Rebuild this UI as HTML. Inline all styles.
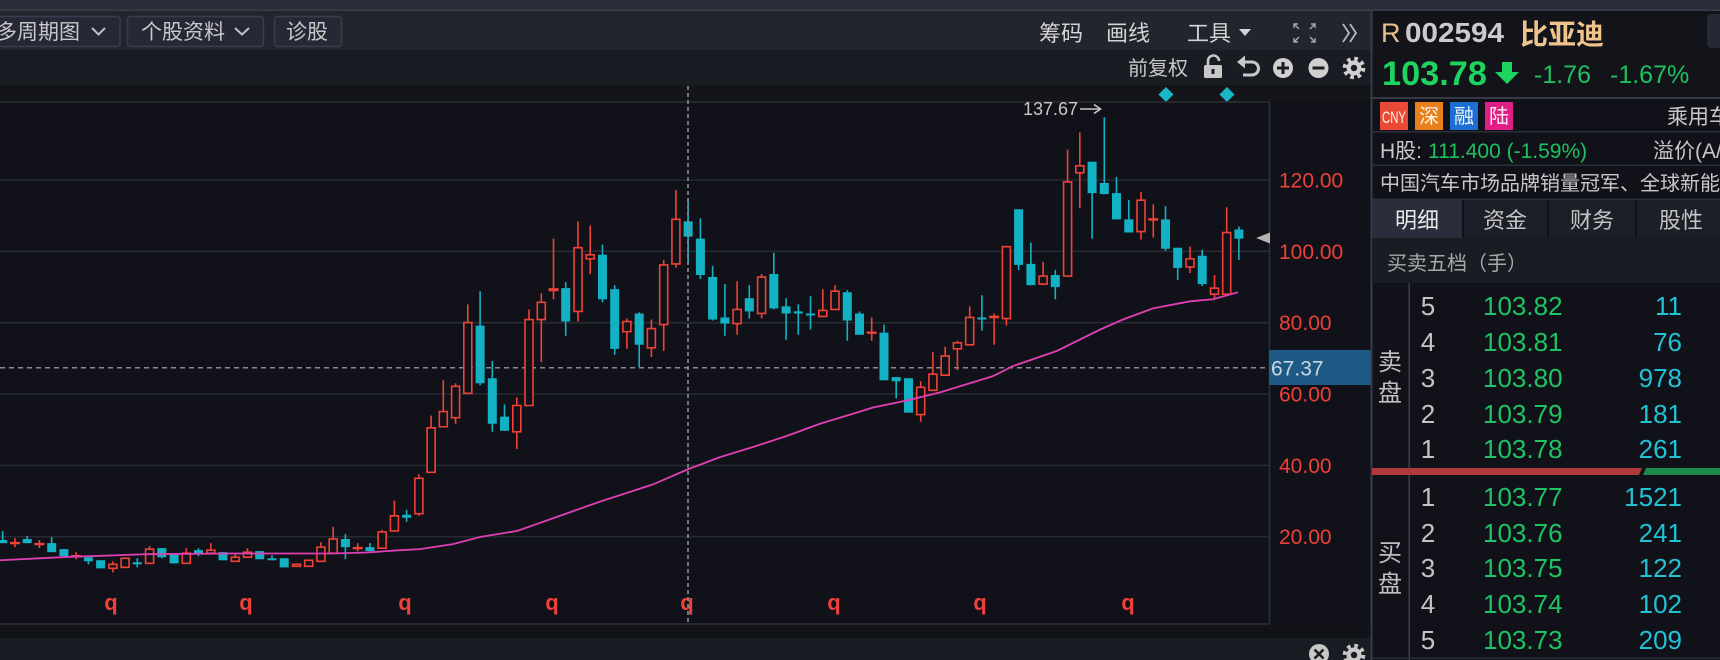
<!DOCTYPE html>
<html><head><meta charset="utf-8"><style>
html,body{margin:0;padding:0;background:#111219;}
body{width:1720px;height:660px;overflow:hidden;}
svg{display:block;}
svg text{font-family:"Liberation Sans","Noto Sans CJK SC",sans-serif;}
</style></head><body>
<svg width="1720" height="660" viewBox="0 0 1720 660" xmlns="http://www.w3.org/2000/svg">
<rect x="0" y="0" width="1720" height="660" fill="#111219"/>
<!-- top band -->
<rect x="0" y="0" width="1720" height="10" fill="#2a2c38"/>
<rect x="0" y="9.5" width="1720" height="1.5" fill="#3a3d4a"/>
<!-- left toolbar -->
<rect x="0" y="11" width="1371" height="39" fill="#22242e"/>
<rect x="0" y="50" width="1371" height="35" fill="#1a1c23"/>
<rect x="0" y="85" width="1371" height="17" fill="#141519"/>
<rect x="-5" y="16.5" width="125" height="30" rx="3" fill="#262835" stroke="#3a3d4b" stroke-width="1.5"/>
<text x="-4" y="39" font-size="21" fill="#c8c8c8">多周期图</text>
<polyline points="92,28 98.5,34.5 105,28" fill="none" stroke="#c0c0c0" stroke-width="2"/>
<rect x="127.5" y="16.5" width="136" height="30" rx="3" fill="#262835" stroke="#3a3d4b" stroke-width="1.5"/>
<text x="141" y="39" font-size="21" fill="#c8c8c8">个股资料</text>
<polyline points="235,28 242,34.5 249,28" fill="none" stroke="#c0c0c0" stroke-width="2"/>
<rect x="274.5" y="16.5" width="67" height="30" rx="3" fill="#262835" stroke="#3a3d4b" stroke-width="1.5"/>
<text x="286" y="39" font-size="21" fill="#c8c8c8">诊股</text>
<text x="1039" y="41" font-size="22" fill="#d4d4d4">筹码</text>
<text x="1106" y="41" font-size="22" fill="#d4d4d4">画线</text>
<text x="1187" y="41" font-size="22" fill="#d4d4d4">工具</text>
<polygon points="1239,29 1251,29 1245,36" fill="#d4d4d4"/>
<g stroke="#a8a8a8" stroke-width="1.4" fill="none">
<path d="M1294 28V24H1298M1294 24L1299 29"/>
<path d="M1315 28V24H1311M1315 24L1310 29"/>
<path d="M1294 38V42H1298M1294 42L1299 37"/>
<path d="M1315 38V42H1311M1315 42L1310 37"/>
</g>
<g stroke="#b8b8b8" stroke-width="1.8" fill="none">
<polyline points="1343,24 1349,33 1343,42"/>
<polyline points="1350,24 1356,33 1350,42"/>
</g>
<!-- second row -->
<text x="1128" y="75" font-size="20" fill="#c8c8c8">前复权</text>
<path d="M1208 65V61a5.5 5.5 0 0 1 11 0" fill="none" stroke="#c8c8c8" stroke-width="2.6"/>
<rect x="1204" y="65" width="18" height="13" rx="1.5" fill="#c8c8c8"/>
<rect x="1211.5" y="69" width="3" height="5" fill="#1a1c23"/>
<path d="M1244 62h8a6.5 6.5 0 0 1 0 13h-9" fill="none" stroke="#c8c8c8" stroke-width="3"/>
<polygon points="1237,62 1245,55.5 1245,68.5" fill="#c8c8c8"/>
<circle cx="1283" cy="68" r="10" fill="#d0d0d0"/>
<rect x="1277" y="66.5" width="12" height="3" fill="#1a1c23"/>
<rect x="1281.5" y="62" width="3" height="12" fill="#1a1c23"/>
<circle cx="1318.5" cy="68" r="10" fill="#d0d0d0"/>
<rect x="1312.5" y="66.5" width="12" height="3" fill="#1a1c23"/>
<circle cx="1354" cy="68" r="9.3" fill="none" stroke="#d0d0d0" stroke-width="4" stroke-dasharray="3.6 3.7"/>
<circle cx="1354" cy="68" r="7.5" fill="#d0d0d0"/>
<circle cx="1354" cy="68" r="3.2" fill="#1a1c23"/>
<polygon points="1166,87 1173.5,94.5 1166,102 1158.5,94.5" fill="#19b6c8"/>
<polygon points="1227,87 1234.5,94.5 1227,102 1219.5,94.5" fill="#19b6c8"/>

<!-- plot frame + grid -->
<g stroke="#272933" stroke-width="1.6">
<line x1="0" y1="180" x2="1269" y2="180"/>
<line x1="0" y1="251.3" x2="1269" y2="251.3"/>
<line x1="0" y1="322.7" x2="1269" y2="322.7"/>
<line x1="0" y1="394" x2="1269" y2="394"/>
<line x1="0" y1="465.4" x2="1269" y2="465.4"/>
<line x1="0" y1="536.7" x2="1269" y2="536.7"/>
</g>
<path d="M0 102H1269.5V624H0" fill="none" stroke="#2c2e38" stroke-width="1.6"/>
<rect x="0" y="625" width="1371" height="13" fill="#121319"/>
<rect x="0" y="638" width="1371" height="22" fill="#1a1c23"/>
<!-- axis labels -->
<g font-size="21" fill="#ec4038">
<text x="1279" y="187.5">120.00</text>
<text x="1279" y="258.8">100.00</text>
<text x="1279" y="330.2">80.00</text>
<text x="1279" y="401.5">60.00</text>
<text x="1279" y="472.9">40.00</text>
<text x="1279" y="544.2">20.00</text>
</g>
<line x1="0" y1="367.7" x2="1269" y2="367.7" stroke="#8a8c94" stroke-width="1.5" stroke-dasharray="5 4"/>
<rect x="1269" y="350" width="102" height="35" fill="#1e5a86"/>
<text x="1271" y="375.5" font-size="21" fill="#ccd6e0">67.37</text>

<!-- q markers -->
<g font-size="22" font-weight="bold" fill="#f0403a" text-anchor="middle">
<text x="111" y="610">q</text><text x="246" y="610">q</text><text x="405" y="610">q</text><text x="552" y="610">q</text>
<text x="687" y="610">q</text><text x="834" y="610">q</text><text x="980" y="610">q</text><text x="1128" y="610">q</text>
</g>

<!-- candles -->
<g transform="matrix(1 0 0 1.0116 0 -1.16)">
<path fill="none" stroke="#12b2c4" stroke-width="1.6" d="M2.7 526V538M27.2 531V538M51.7 532V547M63.9 544V551M88.4 551V559M100.6 555V563M137.3 553V562M161.8 543V553M174.1 548V558M198.5 543V551M223 547V555M259.7 546V554M272 550V555M284.2 553V562M345.4 529V554M369.9 538V546M406.6 505V517M480.1 289V382M492.3 358V428M504.5 401V427M565.7 280V333M602.5 243V300M614.7 283V352M639.2 310V364M688.1 198V262M700.4 217V277M712.6 264V318M724.9 282V333M749.3 283V316M773.8 251V307M786.1 296V337M798.3 302V332M810.5 294V327M847.3 288V338M859.5 309V332M884 322V377M896.2 374V395M908.5 375V409M981.9 293V328M1018.6 208V268M1030.9 241V283M1055.3 268V297M1092.1 161V237M1104.3 117V193M1116.5 176V218M1128.8 199V231M1165.5 205V249M1177.7 246V278M1202.2 248V284M1238.9 225V258"/>
<path fill="#12b2c4" d="M-1.8 535h9v3h-9zM22.7 534h9v4h-9zM47.2 538h9v9h-9zM59.4 544h9v7h-9zM83.9 552h9v4h-9zM96.1 555h9v8h-9zM132.8 557h9v2h-9zM157.3 543h9v9h-9zM169.6 548h9v10h-9zM194 545h9v3h-9zM218.5 547h9v8h-9zM255.2 546h9v8h-9zM267.5 553h9v2h-9zM279.7 553h9v9h-9zM340.9 534h9v8h-9zM365.4 542h9v4h-9zM402.1 510h9v3h-9zM475.6 323h9v57h-9zM487.8 375h9v45h-9zM500 413h9v14h-9zM561.2 286h9v33h-9zM598 253h9v44h-9zM610.2 287h9v59h-9zM634.7 311h9v31h-9zM683.6 220h9v15h-9zM695.9 237h9v36h-9zM708.1 275h9v42h-9zM720.4 315h9v6h-9zM744.8 296h9v13h-9zM769.3 272h9v34h-9zM781.6 304h9v7h-9zM793.8 309h9v2h-9zM806 311h9v2h-9zM842.8 290h9v28h-9zM855 311h9v21h-9zM879.5 330h9v47h-9zM891.7 374h9v4h-9zM904 375h9v34h-9zM977.4 315h9v2h-9zM1014.1 208h9v55h-9zM1026.4 262h9v21h-9zM1050.8 273h9v12h-9zM1087.6 161h9v31h-9zM1099.8 182h9v11h-9zM1112 192h9v26h-9zM1124.3 218h9v13h-9zM1161 218h9v29h-9zM1173.2 246h9v20h-9zM1197.7 254h9v28h-9zM1234.4 228h9v9h-9z"/>
<path fill="none" stroke="#ef4136" stroke-width="1.6" d="M14.9 533V542M39.4 535V543M76.1 547V554M112.9 556V567M125.1 552V563M149.6 541V558M186.3 543V558M210.8 538V548M235.3 549V556M247.5 543V552M296.5 558V561M308.7 555V561M320.9 537V556M333.2 522V548M357.7 538V546M382.1 525V543M394.4 496V526M418.9 470V511M431.1 412V468M443.3 377V423M455.6 380V420M467.8 302V390M516.8 394V445M529 307V402M541.3 291V359M553.5 237V297M578 220V319M590.2 224V272M626.9 316V346M651.4 317V354M663.7 258V348M675.9 189V266M737.1 279V332M761.6 272V316M822.8 287V314M835 283V307M871.7 315V338M920.7 378V418M932.9 349V387M945.2 344V372M957.4 338V367M969.7 304V342M994.1 311V342M1006.4 245V323M1043.1 260V283M1067.6 149V274M1079.8 132V207M1141 191V238M1153.3 203V236M1190 245V271M1214.5 273V297M1226.7 206V292"/>
<path fill="#ef4136" d="M9.9 536.8h10v2.4h-10zM34.4 537.8h10v2.4h-10zM71.1 549.8h10v2.4h-10zM352.7 541.8h10v2.4h-10zM548.5 286h10v3h-10zM866.7 328.8h10v2.4h-10zM989.1 313.3h10v2.4h-10zM1148.3 216.8h10v2.4h-10z"/>
<path fill="#111219" stroke="#ef4136" stroke-width="1.6" d="M108.9 559h8v4h-8zM121.1 553h8v9h-8zM145.6 544h8v14h-8zM182.3 548h8v10h-8zM206.8 545h8v3h-8zM231.3 552h8v4h-8zM243.5 547h8v5h-8zM292.5 559h8v2h-8zM304.7 555h8v6h-8zM316.9 542h8v14h-8zM329.2 534h8v14h-8zM378.1 527h8v16h-8zM390.4 511h8v15h-8zM414.9 474h8v35h-8zM427.1 424h8v44h-8zM439.3 408h8v15h-8zM451.6 383h8v31h-8zM463.8 320h8v70h-8zM512.8 402h8v26h-8zM525 317h8v85h-8zM537.3 300h8v17h-8zM574 246h8v63h-8zM586.2 253h8v4h-8zM622.9 319h8v10h-8zM647.4 326h8v19h-8zM659.7 263h8v59h-8zM671.9 218h8v44h-8zM733.1 307h8v14h-8zM757.6 275h8v36h-8zM818.8 308h8v6h-8zM831 289h8v18h-8zM916.7 384h8v27h-8zM928.9 371h8v16h-8zM941.2 353h8v19h-8zM953.4 340h8v6h-8zM965.7 315h8v27h-8zM1002.4 245h8v71h-8zM1039.1 274h8v8h-8zM1063.6 181h8v93h-8zM1075.8 165h8v7h-8zM1137 199h8v31h-8zM1186 257h8v8h-8zM1210.5 286h8v6h-8zM1222.7 231h8v61h-8z"/>
<polyline fill="none" stroke="#df3fb4" stroke-width="1.8" points="0,555 67,551.7 147,549 233,548.3 333,548.3 367,547.3 400,545 420,544 453,539 480,532 517,526 563,510 600,497 653,480 688,465 720,453 753,443 787,432 820,420 860,408 873,404 907,397 940,389 993,373 1013,363 1057,348 1100,327 1123,317 1153,306 1190,299 1213,297 1238,290"/>
</g>
<line x1="688" y1="86" x2="688" y2="624" stroke="#8a8c94" stroke-width="1.6" stroke-dasharray="4 3"/>
<text x="1023" y="115" font-size="18" fill="#c8c8c8">137.67</text>
<line x1="1080" y1="109" x2="1100" y2="109" stroke="#c8c8c8" stroke-width="1.6"/>
<polyline points="1094,104.5 1100.5,109 1094,113.5" fill="none" stroke="#c8c8c8" stroke-width="1.6"/>
<polygon points="1256,238 1270,232.5 1270,243.5" fill="#b4b4b4"/>
<!-- bottom icons -->
<circle cx="1319" cy="654" r="10" fill="#c8c8c8"/>
<path d="M1314.5 649.5L1323.5 658.5M1323.5 649.5L1314.5 658.5" stroke="#1a1c23" stroke-width="2.6"/>
<circle cx="1354" cy="655" r="9.3" fill="none" stroke="#c8c8c8" stroke-width="4" stroke-dasharray="3.6 3.7"/>
<circle cx="1354" cy="655" r="7.5" fill="#c8c8c8"/>
<circle cx="1354" cy="655" r="3.2" fill="#1a1c23"/>

<!-- right panel -->
<rect x="1372" y="11" width="348" height="649" fill="#111219"/>
<rect x="1372" y="11" width="348" height="86" fill="#13141a"/>
<rect x="1370.5" y="10" width="2" height="650" fill="#383b48"/>
<text x="1381" y="42" font-size="27" fill="#e8c08a">R</text>
<text x="1405" y="42" font-size="28" font-weight="bold" fill="#c9cbd1" textLength="99" lengthAdjust="spacingAndGlyphs">002594</text>
<text x="1520" y="44" font-size="28" font-weight="bold" fill="#efc38c">比亚迪</text>
<rect x="1707" y="14" width="24" height="34" rx="4" fill="#262834"/>
<text x="1382" y="85" font-size="34" font-weight="bold" fill="#1fd35f" textLength="105" lengthAdjust="spacingAndGlyphs">103.78</text>
<rect x="1502" y="62" width="10" height="11" fill="#1fd35f"/>
<polygon points="1495,72 1519,72 1507,84" fill="#1fd35f"/>
<text x="1534" y="83" font-size="25" fill="#1fc05f">-1.76</text>
<text x="1610" y="83" font-size="25" fill="#1fc05f">-1.67%</text>
<rect x="1372" y="97" width="348" height="2" fill="#363945"/>
<!-- badges -->
<rect x="1380" y="102" width="28" height="28" fill="#e84a35"/>
<text x="1382" y="123" font-size="17" fill="#fff4ee" textLength="24" lengthAdjust="spacingAndGlyphs">CNY</text>
<rect x="1415" y="102" width="28" height="28" fill="#e8801c"/>
<text x="1429" y="123" font-size="20" fill="#fff4e8" text-anchor="middle">深</text>
<rect x="1450" y="102" width="28" height="28" fill="#1d6fd3"/>
<text x="1464" y="123" font-size="20" fill="#f0f6ff" text-anchor="middle">融</text>
<rect x="1485" y="102" width="28" height="28" fill="#e01e86"/>
<text x="1499" y="123" font-size="20" fill="#fff0f6" text-anchor="middle">陆</text>
<text x="1667" y="124" font-size="21" fill="#c8c8c8">乘用车</text>
<rect x="1372" y="131" width="348" height="1.5" fill="#2c2f3a"/>
<text x="1380" y="158" font-size="21" fill="#c8c8c8">H股:</text>
<text x="1428" y="158" font-size="21" fill="#1fc05f">111.400 (-1.59%)</text>
<text x="1653" y="158" font-size="21" fill="#c8c8c8">溢价(A/H)</text>
<rect x="1372" y="164.5" width="348" height="1.5" fill="#2c2f3a"/>
<text x="1380" y="190" font-size="20" fill="#c8c8c8">中国汽车市场品牌销量冠军、全球新能源汽车</text>
<rect x="1372" y="198.5" width="348" height="1.5" fill="#2c2f3a"/>
<!-- tabs -->
<rect x="1372" y="200" width="90" height="38" fill="#2a2d3b"/>
<rect x="1464" y="200" width="83" height="38" fill="#1d1f28"/>
<rect x="1549" y="200" width="86" height="38" fill="#1d1f28"/>
<rect x="1637" y="200" width="83" height="38" fill="#1d1f28"/>
<text x="1417" y="228" font-size="22" fill="#e8e8e8" text-anchor="middle">明细</text>
<text x="1505" y="228" font-size="22" fill="#c4c4c4" text-anchor="middle">资金</text>
<text x="1592" y="228" font-size="22" fill="#c4c4c4" text-anchor="middle">财务</text>
<text x="1681" y="228" font-size="22" fill="#c4c4c4" text-anchor="middle">股性</text>
<rect x="1372" y="238" width="348" height="45" fill="#1a1c24"/>
<text x="1387" y="270" font-size="20" fill="#a8a8a8">买卖五档（手）</text>
<!-- order book -->
<rect x="1408.5" y="283" width="1.5" height="377" fill="#3a3d4c"/>
<g font-size="24" fill="#c0c0c0" text-anchor="middle">
<text x="1390" y="370">卖</text><text x="1390" y="401">盘</text>
<text x="1390" y="561">买</text><text x="1390" y="592">盘</text>
</g>
<polygon points="1372,468 1642,468 1639,475 1372,475" fill="#b03a3a"/>
<polygon points="1646,468 1720,468 1720,475 1643,475" fill="#1e8a4a"/>
<g font-size="26">
<g fill="#c4c4c4" text-anchor="middle">
<text x="1428" y="315">5</text><text x="1428" y="351">4</text><text x="1428" y="387">3</text><text x="1428" y="423">2</text><text x="1428" y="458">1</text>
<text x="1428" y="506">1</text><text x="1428" y="542">2</text><text x="1428" y="577">3</text><text x="1428" y="613">4</text><text x="1428" y="649">5</text>
</g>
<g fill="#1ec363">
<text x="1483" y="315">103.82</text><text x="1483" y="351">103.81</text><text x="1483" y="387">103.80</text><text x="1483" y="423">103.79</text><text x="1483" y="458">103.78</text>
<text x="1483" y="506">103.77</text><text x="1483" y="542">103.76</text><text x="1483" y="577">103.75</text><text x="1483" y="613">103.74</text><text x="1483" y="649">103.73</text>
</g>
<g fill="#22c1d4" text-anchor="end">
<text x="1682" y="315">11</text><text x="1682" y="351">76</text><text x="1682" y="387">978</text><text x="1682" y="423">181</text><text x="1682" y="458">261</text>
<text x="1682" y="506">1521</text><text x="1682" y="542">241</text><text x="1682" y="577">122</text><text x="1682" y="613">102</text><text x="1682" y="649">209</text>
</g>
</g>
<rect x="1372" y="657.5" width="348" height="1.5" fill="#2c2f3a"/>
</svg>
</body></html>
